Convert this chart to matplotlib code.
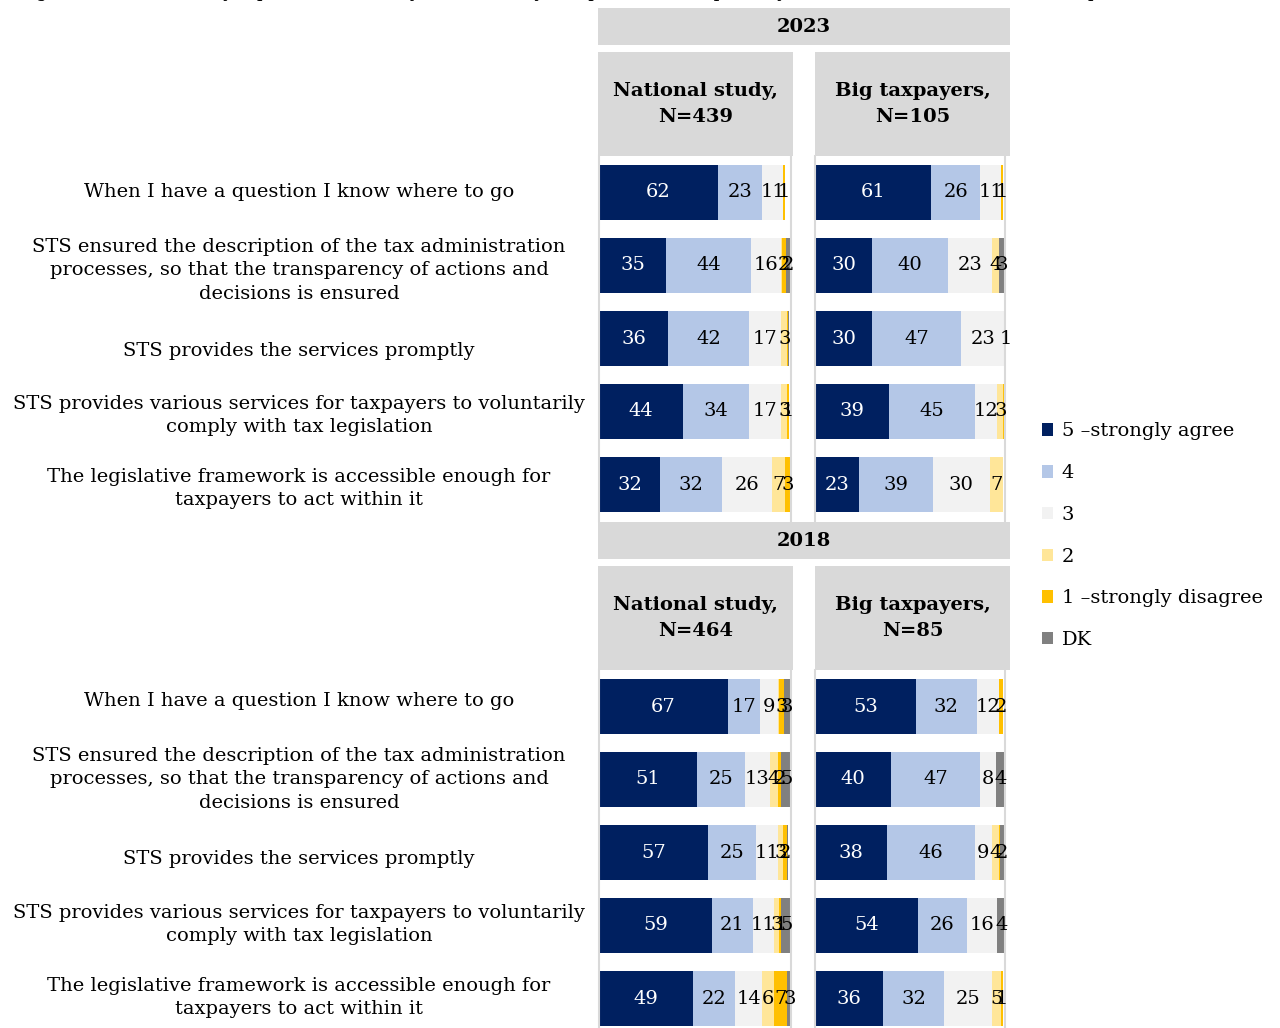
import matplotlib
matplotlib.use("Agg")
import matplotlib.pyplot as plt
from matplotlib.patches import Rectangle, Patch
from matplotlib.transforms import blended_transform_factory, offset_copy

W, H = 1280, 1028

# statements (same order in both years)
questions = [
    "When I have a question I know where to go",
    "STS ensured the description of the tax administration\nprocesses, so that the transparency of actions and\ndecisions is ensured",
    "STS provides the services promptly",
    "STS provides various services for taxpayers to voluntarily\ncomply with tax legislation",
    "The legislative framework is accessible enough for\ntaxpayers to act within it",
]

answers = ["5 \u2013strongly agree", "4", "3", "2", "1 \u2013strongly disagree", "DK"]
colors = ["#002060", "#B4C7E7", "#F2F2F2", "#FFE699", "#FFC000", "#808080"]

# shares per statement, columns follow `answers`
nat_2023 = [
    [62, 23, 11, 0, 1, 0],
    [35, 44, 16, 0.5, 2, 2],
    [36, 42, 17, 3, 0.5, 0.5],
    [44, 34, 17, 3, 1, 0],
    [32, 32, 26, 7, 3, 0],
]
big_2023 = [
    [61, 26, 11, 0, 1, 0],
    [30, 40, 23, 4, 0, 3],
    [30, 47, 23, 1, 0, 0],
    [39, 45, 12, 3, 0.5, 0],
    [23, 39, 30, 7, 0, 0],
]
nat_2018 = [
    [67, 17, 9, 0.5, 3, 3],
    [51, 25, 13, 4, 2, 5],
    [57, 25, 11, 3, 2, 0.5],
    [59, 21, 11, 3, 1, 5],
    [49, 22, 14, 6, 7, 3],
]
big_2018 = [
    [53, 32, 12, 0, 2, 0],
    [40, 47, 8, 0.5, 0, 4],
    [38, 46, 9, 4, 0.5, 2],
    [54, 26, 16, 0, 0, 4],
    [36, 32, 25, 5, 1, 0],
]

years = ["2023", "2018"]
panel_titles = [
    ["National study,\nN=439", "Big taxpayers,\nN=105"],
    ["National study,\nN=464", "Big taxpayers,\nN=85"],
]
panel_data = [[nat_2023, big_2023], [nat_2018, big_2018]]

FONT = "DejaVu Serif"
FS = 14
HEADER_GREY = "#D9D9D9"

plt.rcParams["font.family"] = [FONT]

# vertical nudge of the row captions (px, downwards)
caption_shift = [[0, 5, 12, 4, 4], [-5, 0, 6, -1, -1]]


def fbox(x0, y0, x1, y1):
    # pixel box (top-left origin) -> figure fraction rect
    return [x0 / W, 1 - y1 / H, (x1 - x0) / W, (y1 - y0) / H]


def grey_box(fig, x0, y0, x1, y1):
    l, b, w, h = fbox(x0, y0, x1, y1)
    fig.add_artist(Rectangle((l, b), w, h, transform=fig.transFigure,
                             facecolor=HEADER_GREY, edgecolor="none", zorder=0))


def draw_panel(ax, rows):
    ypos = list(range(len(rows)))
    left = [0] * len(rows)
    for k in range(len(answers)):
        vals = [r[k] for r in rows]
        bars = ax.barh(ypos, vals, left=left, height=0.76, color=colors[k],
                       edgecolor="none")
        txt_color = "white" if k == 0 else "black"
        for b, v in zip(bars, vals):
            if v >= 1:
                ax.text(b.get_x() + b.get_width() / 2, b.get_y() + b.get_height() / 2,
                        f"{v:g}", ha="center", va="center", color=txt_color,
                        fontsize=FS)
        left = [a + v for a, v in zip(left, vals)]
    ax.set_xlim(0, 100)
    ax.set_ylim(len(rows) - 0.5, -0.5)
    ax.set_xticks([])
    ax.set_yticks([])
    for s in ["top", "bottom"]:
        ax.spines[s].set_visible(False)
    for s in ["left", "right"]:
        ax.spines[s].set_color(HEADER_GREY)
        ax.spines[s].set_linewidth(1.5)


fig = plt.figure(figsize=(W / 100, H / 100), dpi=100)

# caption line, only its descenders fall inside the canvas
fig.text(18 / W, 1 + 3 / H,
         "Figure 3. Evaluation by topics: Accessibility for voluntary compliance, transparency, convenience, % of the total sample",
         ha="left", va="baseline", fontsize=13)

panel_x = [(599, 791), (815, 1005)]
head_x = [(598, 793), (815, 1010)]
year_top = [8, 522]

for yi, year in enumerate(years):
    top = year_top[yi]
    # year band
    grey_box(fig, 598, top, 1010, top + 37)
    fig.text(804 / W, 1 - (top + 19) / H, year, ha="center", va="center",
             fontsize=FS, fontweight="bold")

    head_top = top + 44
    head_bot = head_top + 104
    for pi in range(2):
        hx0, hx1 = head_x[pi]
        grey_box(fig, hx0, head_top, hx1, head_bot)
        fig.text((hx0 + hx1) / 2 / W, 1 - (head_top + head_bot) / 2 / H,
                 panel_titles[yi][pi], ha="center", va="center",
                 fontsize=FS, fontweight="bold", linespacing=1.6)

        px0, px1 = panel_x[pi]
        ax = fig.add_axes(fbox(px0, head_bot, px1, head_bot + 365))
        ax.patch.set_alpha(0)
        draw_panel(ax, panel_data[yi][pi])

        if pi == 0:
            trans = blended_transform_factory(fig.transFigure, ax.transData)
            for qi, q in enumerate(questions):
                t = offset_copy(trans, fig=fig, y=-caption_shift[yi][qi], units="dots")
                ax.text(299 / W, qi, q, transform=t, ha="center", va="center",
                        multialignment="center", fontsize=FS, linespacing=1.42)

handles = [Patch(facecolor=c, edgecolor="none") for c in colors]
fig.legend(handles, answers, loc="upper left",
           bbox_to_anchor=(1024 / W, 1 - 405 / H), frameon=False,
           handlelength=0.6, handleheight=0.6, handletextpad=0.45,
           labelspacing=1.22, prop={"size": FS})

fig.savefig("out.png", dpi=100)
